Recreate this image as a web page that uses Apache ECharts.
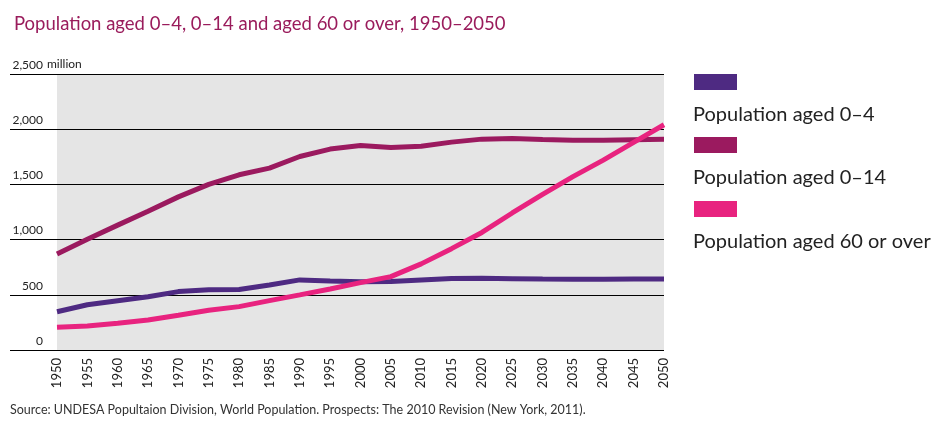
<!DOCTYPE html>
<html>
<head>
<meta charset="utf-8">
<script src="https://cdn.jsdelivr.net/npm/echarts@6/dist/echarts.min.js"></script>
<style>
html,body{margin:0;padding:0;background:#fff;}
#chart{width:950px;height:441px;}
</style>
</head>
<body>
<div id="chart"></div>
<script>
const years = ['1950','1955','1960','1965','1970','1975','1980','1985','1990','1995','2000','2005','2010','2015','2020','2025','2030','2035','2040','2045','2050'];
const aged0to4 = [347, 410, 447, 483, 529, 546, 548, 589, 635, 626, 618, 620, 635, 648, 650, 646, 642, 640, 641, 642, 643];
const aged0to14 = [870, 1004, 1131, 1257, 1387, 1500, 1587, 1647, 1753, 1820, 1852, 1834, 1845, 1883, 1910, 1916, 1907, 1901, 1901, 1905, 1908];
const aged60plus = [206, 218, 242, 272, 315, 360, 393, 447, 499, 553, 610, 665, 780, 918, 1065, 1241, 1410, 1570, 1720, 1880, 2040];
const yTicks = [0, 500, 1000, 1500, 2000, 2500];
const yTickLabels = ['0', '500', '1,000', '1,500', '2,000', '2,500'];
const seriesNames = ['Population aged 0–4', 'Population aged 0–14', 'Population aged 60 or over'];
const colors = ['#4e2a82', '#9b1a5f', '#e8237f'];
const titleText = 'Population aged 0–4, 0–14 and aged 60 or over, 1950–2050';
const sourceText = 'Source: UNDESA Popultaion Division, World Population. Prospects: The 2010 Revision (New York, 2011).';
const unitText = 'million';

const FONT = 'Lato';
const chart = echarts.init(document.getElementById('chart'));

const legendGraphics = [];
const legendRectY = [74, 137, 201];
const legendTextY = [115, 178, 242];
seriesNames.forEach((n, i) => {
  legendGraphics.push({type:'rect', left:694, top:legendRectY[i], shape:{width:43, height:16}, style:{fill:colors[i]}});
  legendGraphics.push({type:'text', left:693, top:legendTextY[i]-10, style:{text:n, fill:'#222', font:'20px ' + FONT}});
});

const option = {
  animation: false,
  textStyle: {fontFamily: FONT},
  title: {
    text: titleText, left: 9, top: 10,
    textStyle: {color: '#9a1c5c', fontSize: 18.5, fontWeight: 'normal', fontFamily: FONT}
  },
  grid: [
    {left: 10, right: 286, top: 74, bottom: 91, show: false},
    {left: 57, right: 286, top: 74, bottom: 91, show: true, backgroundColor: '#e5e5e5', borderWidth: 0}
  ],
  xAxis: [
    {gridIndex: 0, type: 'value', min: 0, max: 1, show: false},
    {gridIndex: 1, type: 'category', data: years, boundaryGap: false,
     axisLine: {show: false}, axisTick: {show: false}, splitLine: {show: false},
     axisLabel: {rotate: 90, margin: 8, fontSize: 13, color: '#222', fontFamily: FONT, interval: 0}}
  ],
  yAxis: [
    {gridIndex: 0, type: 'value', min: 0, max: 2500, interval: 500,
     axisLine: {show: false}, axisTick: {show: false},
     splitLine: {show: true, lineStyle: {color: '#000', width: 1}},
     axisLabel: {inside: true, margin: 33, align: 'right', verticalAlign: 'bottom',
       padding: [0, 0, 3, 0], fontSize: 12, color: '#222', fontFamily: FONT,
       formatter: v => yTickLabels[yTicks.indexOf(v)]}},
    {gridIndex: 1, type: 'value', min: 0, max: 2500, interval: 500, show: false}
  ],
  graphic: [
    {type: 'text', left: 47, top: 58, style: {text: unitText, fill: '#222', font: '12px ' + FONT}},
    {type: 'text', left: 10, top: 403, style: {text: sourceText, fill: '#333', font: '12.5px ' + FONT}}
  ].concat(legendGraphics),
  series: [aged0to4, aged0to14, aged60plus].map((d, i) => ({
    name: seriesNames[i], type: 'line', xAxisIndex: 1, yAxisIndex: 1,
    data: d, symbol: 'none', smooth: false,
    lineStyle: {color: colors[i], width: 5},
    z: 2 + i
  }))
};
chart.setOption(option);
</script>
</body>
</html>
